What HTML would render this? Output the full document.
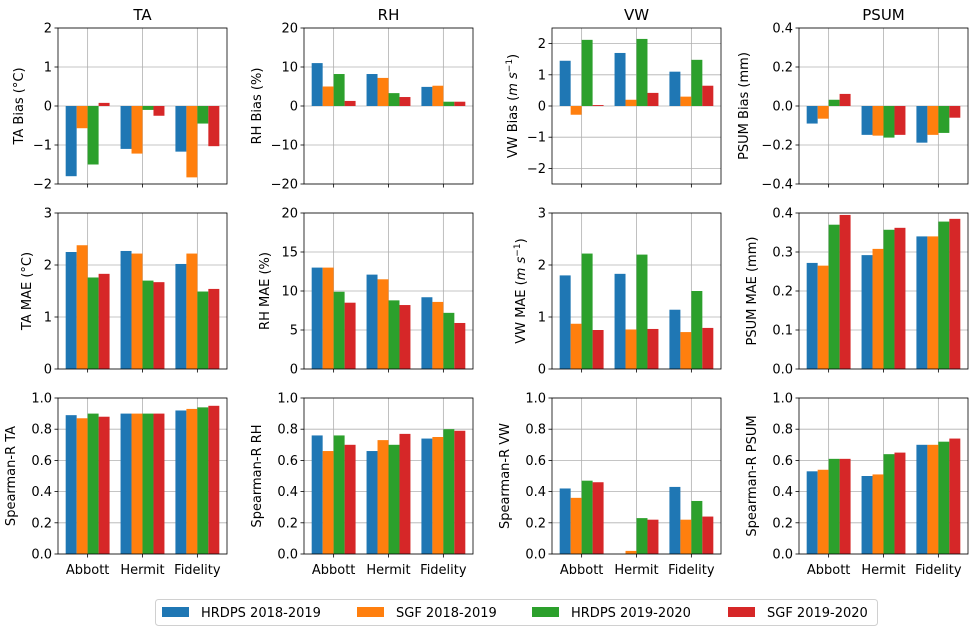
<!DOCTYPE html>
<html><head><meta charset="utf-8"><style>
body{margin:0;background:#fff;font-family:"DejaVu Sans","Liberation Sans",sans-serif;}
svg text{font-family:"DejaVu Sans","Liberation Sans",sans-serif;fill:#000}
</style></head><body>
<svg id="fig" width="980" height="636" xmlns="http://www.w3.org/2000/svg"></svg>
<script>
const categories = ["Abbott","Hermit","Fidelity"];
const seriesNames = ["HRDPS 2018-2019","SGF 2018-2019","HRDPS 2019-2020","SGF 2019-2020"];
const colors = ["#1f77b4","#ff7f0e","#2ca02c","#d62728"];
const titles = ["TA","RH","VW","PSUM"];
// values per panel: [group][series]
const taBias = [[-1.8,-0.57,-1.5,0.08],[-1.1,-1.22,-0.1,-0.25],[-1.17,-1.83,-0.45,-1.03]];
const rhBias = [[11,5,8.2,1.3],[8.2,7.2,3.3,2.3],[4.9,5.2,1.1,1.1]];
const vwBias = [[1.45,-0.28,2.12,0.03],[1.7,0.2,2.15,0.42],[1.1,0.3,1.48,0.65]];
const psumBias = [[-0.09,-0.065,0.032,0.062],[-0.148,-0.152,-0.162,-0.148],[-0.188,-0.148,-0.138,-0.06]];
const taMae = [[2.25,2.38,1.76,1.83],[2.27,2.22,1.7,1.67],[2.02,2.22,1.49,1.54]];
const rhMae = [[13,13,9.9,8.5],[12.1,11.5,8.8,8.2],[9.2,8.6,7.2,5.9]];
const vwMae = [[1.8,0.87,2.22,0.75],[1.83,0.76,2.2,0.77],[1.14,0.71,1.5,0.79]];
const psumMae = [[0.272,0.265,0.37,0.395],[0.292,0.308,0.357,0.362],[0.34,0.34,0.378,0.385]];
const taR = [[0.89,0.87,0.9,0.88],[0.9,0.9,0.9,0.9],[0.92,0.93,0.94,0.95]];
const rhR = [[0.76,0.66,0.76,0.7],[0.66,0.73,0.7,0.77],[0.74,0.75,0.8,0.79]];
const vwR = [[0.42,0.36,0.47,0.46],[0,0.02,0.23,0.22],[0.43,0.22,0.34,0.24]];
const psumR = [[0.53,0.54,0.61,0.61],[0.5,0.51,0.64,0.65],[0.7,0.7,0.72,0.74]];
const yTickBias = [["−2","−1","0","1","2"],["−20","−10","0","10","20"],["−2","−1","0","1","2"],["−0.4","−0.2","0.0","0.2","0.4"]];
const yTickVals = [[-2,-1,0,1,2],[-20,-10,0,10,20],[-2,-1,0,1,2],[-0.4,-0.2,0,0.2,0.4]];
const maeTickVals = [[0,1,2,3],[0,5,10,15,20],[0,1,2,3],[0,0.1,0.2,0.3,0.4]];
const maeTickLabels = [["0","1","2","3"],["0","5","10","15","20"],["0","1","2","3"],["0.0","0.1","0.2","0.3","0.4"]];
const rTickVals = [0,0.2,0.4,0.6,0.8,1.0];
const rTickLabels = ["0.0","0.2","0.4","0.6","0.8","1.0"];

const panels = [
 [{d:taBias,lim:[-2,2],tv:yTickVals[0],tl:yTickBias[0],lab:"TA Bias (°C)"},
  {d:rhBias,lim:[-20,20],tv:yTickVals[1],tl:yTickBias[1],lab:"RH Bias (%)"},
  {d:vwBias,lim:[-2.5,2.5],tv:yTickVals[2],tl:yTickBias[2],lab:"VW Bias",unit:true},
  {d:psumBias,lim:[-0.4,0.4],tv:yTickVals[3],tl:yTickBias[3],lab:"PSUM Bias (mm)"}],
 [{d:taMae,lim:[0,3],tv:maeTickVals[0],tl:maeTickLabels[0],lab:"TA MAE (°C)"},
  {d:rhMae,lim:[0,20],tv:maeTickVals[1],tl:maeTickLabels[1],lab:"RH MAE (%)"},
  {d:vwMae,lim:[0,3],tv:maeTickVals[2],tl:maeTickLabels[2],lab:"VW MAE",unit:true},
  {d:psumMae,lim:[0,0.4],tv:maeTickVals[3],tl:maeTickLabels[3],lab:"PSUM MAE (mm)"}],
 [{d:taR,lim:[0,1],tv:rTickVals,tl:rTickLabels,lab:"Spearman-R TA"},
  {d:rhR,lim:[0,1],tv:rTickVals,tl:rTickLabels,lab:"Spearman-R RH"},
  {d:vwR,lim:[0,1],tv:rTickVals,tl:rTickLabels,lab:"Spearman-R VW"},
  {d:psumR,lim:[0,1],tv:rTickVals,tl:rTickLabels,lab:"Spearman-R PSUM"}]
];
const colX = [58,304,552,799], W = 169;
const rowY = [28,213,398], H = 156;
const NS="http://www.w3.org/2000/svg";
const svg=document.getElementById('fig');
function mk(tag,attrs,parent,txt){const e=document.createElementNS(NS,tag);for(const k in attrs)e.setAttribute(k,attrs[k]);if(txt!==undefined)e.textContent=txt;(parent||svg).appendChild(e);return e;}

for(let r=0;r<3;r++)for(let c=0;c<4;c++){
  const p=panels[r][c], x0=colX[c], y0=rowY[r];
  const g=mk('g',{});
  
  
  const xs=v=>x0+(v+0.54)/3.08*W;
  const ys=v=>y0+H-(v-p.lim[0])/(p.lim[1]-p.lim[0])*H;
  p.tv.forEach(v=>{const l=mk('line',{x1:x0,x2:x0+W,y1:ys(v),y2:ys(v),stroke:'#b0b0b0','stroke-width':0.8},g);
    });
  categories.forEach((cat,i)=>{const l=mk('line',{x1:xs(i),x2:xs(i),y1:y0,y2:y0+H,stroke:'#b0b0b0','stroke-width':0.8},g);
    });
  p.d.forEach((grp,i)=>grp.forEach((v,s)=>{
    const xl=xs(i-0.4+0.2*s), xr=xs(i-0.2+0.2*s);
    const ya=ys(v), yb=ys(Math.max(0,p.lim[0]));
    const b=mk('rect',{x:xl,width:xr-xl,y:Math.min(ya,yb),height:Math.abs(yb-ya),fill:colors[s]},g);
    
    
  }));
  mk('rect',{x:x0,y:y0,width:W,height:H,fill:'none',stroke:'#000','stroke-width':0.8},g);
  p.tv.forEach((v,k)=>{mk('line',{x1:x0-3.5,x2:x0,y1:ys(v),y2:ys(v),stroke:'#000','stroke-width':0.8},g);
    const t=mk('text',{x:x0-6,y:ys(v)+4.5,'text-anchor':'end','font-size':13},g,p.tl[k]);
    });
  categories.forEach((cat,i)=>{mk('line',{x1:xs(i),x2:xs(i),y1:y0+H,y2:y0+H+3.5,stroke:'#000','stroke-width':0.8},g);
    if(r===2){const t=mk('text',{x:xs(i),y:y0+H+20,'text-anchor':'middle','font-size':13},g,cat);
      }});
  const lxx = x0 - (p.tl.reduce((m,s)=>Math.max(m,s.length),0)*8+19);
  const yl=mk('text',{x:lxx,y:y0+H/2,'text-anchor':'middle','font-size':13,transform:`rotate(-90 ${lxx} ${y0+H/2})`},g);
  
  if(p.unit){yl.textContent=p.lab+' (';mk('tspan',{'font-style':'italic'},yl,'m s');
    mk('tspan',{'baseline-shift':'super','font-size':9},yl,'−1');mk('tspan',{},yl,')');}
  else yl.textContent=p.lab;
  if(r===0){const t=mk('text',{x:x0+W/2,y:20,'text-anchor':'middle','font-size':15},g,titles[c]);
    }
}
const lg=mk('g',{});

mk('rect',{x:155.5,y:599.5,width:722,height:26,rx:3,fill:'#fff',stroke:'#d0d0d0'},lg);
const lpx=[162,357,532,728];
seriesNames.forEach((n,s)=>{
  const e=mk('g',{},lg);
  
  mk('rect',{x:lpx[s],y:607,width:27,height:10,fill:colors[s]},e);
  mk('text',{x:lpx[s]+39,y:617,'font-size':13},e,n);
});
</script>
</body></html>
